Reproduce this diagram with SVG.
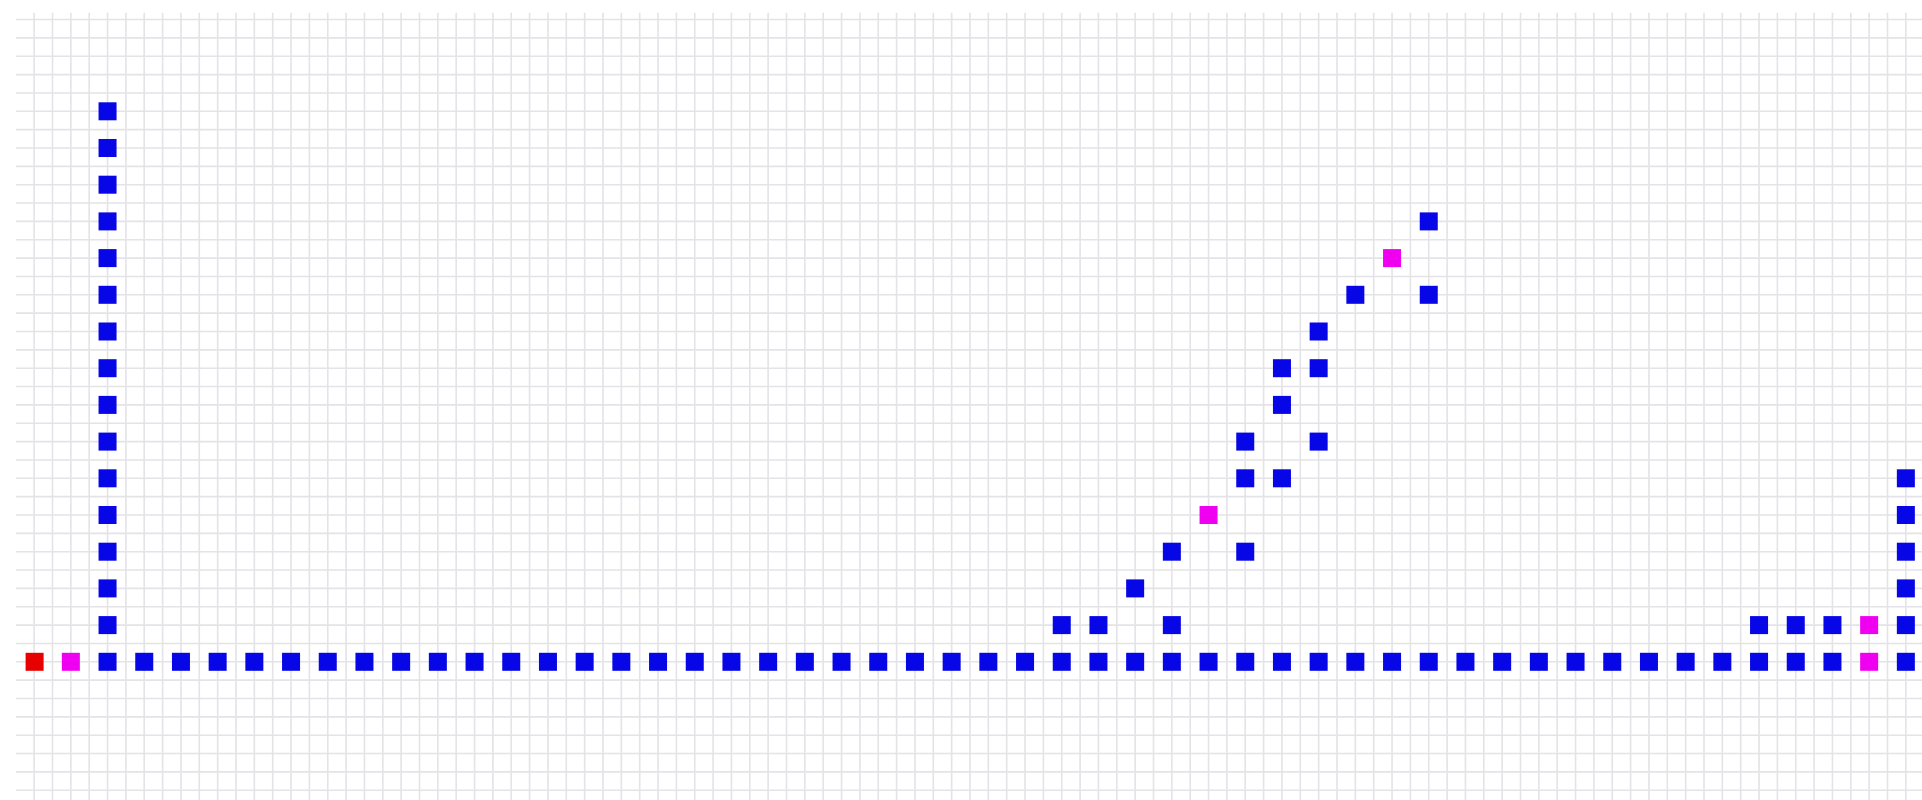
<svg xmlns="http://www.w3.org/2000/svg" xmlns:xlink="http://www.w3.org/1999/xlink" width="1922" height="800" viewBox="0 0 1922 800">
<style>
.b{fill:#0606e6}
.m{fill:#f000f0}
.r{fill:#e60000}
.gl{stroke:#e3e3e8;stroke-width:1.6;fill:none}
</style>
<defs>
<rect id="sq" x="-9" y="-9" width="18" height="18"/>
</defs>
<rect width="1922" height="800" fill="#ffffff"/>
<g id="grid">
<path class="gl" d="M16 19.55H1922M16 37.9H1922M16 56.25H1922M16 74.6H1922M16 92.95H1922M16 111.3H1922M16 129.65H1922M16 148H1922M16 166.35H1922M16 184.7H1922M16 203.05H1922M16 221.4H1922M16 239.75H1922M16 258.1H1922M16 276.45H1922M16 294.8H1922M16 313.15H1922M16 331.5H1922M16 349.85H1922M16 368.2H1922M16 386.55H1922M16 404.9H1922M16 423.25H1922M16 441.6H1922M16 459.95H1922M16 478.3H1922M16 496.65H1922M16 515H1922M16 533.35H1922M16 551.7H1922M16 570.05H1922M16 588.4H1922M16 606.75H1922M16 625.1H1922M16 643.45H1922M16 661.8H1922M16 680.15H1922M16 698.5H1922M16 716.85H1922M16 735.2H1922M16 753.55H1922M16 771.9H1922M16 790.25H1922"/>
<path class="gl" d="M34.15 12.7V800M52.5 12.7V800M70.85 12.7V800M89.2 12.7V800M107.55 12.7V800M125.9 12.7V800M144.25 12.7V800M162.6 12.7V800M180.95 12.7V800M199.3 12.7V800M217.65 12.7V800M236 12.7V800M254.35 12.7V800M272.7 12.7V800M291.05 12.7V800M309.4 12.7V800M327.75 12.7V800M346.1 12.7V800M364.45 12.7V800M382.8 12.7V800M401.15 12.7V800M419.5 12.7V800M437.85 12.7V800M456.2 12.7V800M474.55 12.7V800M492.9 12.7V800M511.25 12.7V800M529.6 12.7V800M547.95 12.7V800M566.3 12.7V800M584.65 12.7V800M603 12.7V800M621.35 12.7V800M639.7 12.7V800M658.05 12.7V800M676.4 12.7V800M694.75 12.7V800M713.1 12.7V800M731.45 12.7V800M749.8 12.7V800M768.15 12.7V800M786.5 12.7V800M804.85 12.7V800M823.2 12.7V800M841.55 12.7V800M859.9 12.7V800M878.25 12.7V800M896.6 12.7V800M914.95 12.7V800M933.3 12.7V800M951.65 12.7V800M970 12.7V800M988.35 12.7V800M1006.7 12.7V800M1025.05 12.7V800M1043.4 12.7V800M1061.75 12.7V800M1080.1 12.7V800M1098.45 12.7V800M1116.8 12.7V800M1135.15 12.7V800M1153.5 12.7V800M1171.85 12.7V800M1190.2 12.7V800M1208.55 12.7V800M1226.9 12.7V800M1245.25 12.7V800M1263.6 12.7V800M1281.95 12.7V800M1300.3 12.7V800M1318.65 12.7V800M1337 12.7V800M1355.35 12.7V800M1373.7 12.7V800M1392.05 12.7V800M1410.4 12.7V800M1428.75 12.7V800M1447.1 12.7V800M1465.45 12.7V800M1483.8 12.7V800M1502.15 12.7V800M1520.5 12.7V800M1538.85 12.7V800M1557.2 12.7V800M1575.55 12.7V800M1593.9 12.7V800M1612.25 12.7V800M1630.6 12.7V800M1648.95 12.7V800M1667.3 12.7V800M1685.65 12.7V800M1704 12.7V800M1722.35 12.7V800M1740.7 12.7V800M1759.05 12.7V800M1777.4 12.7V800M1795.75 12.7V800M1814.1 12.7V800M1832.45 12.7V800M1850.8 12.7V800M1869.15 12.7V800M1887.5 12.7V800M1905.85 12.7V800"/>
</g>
<g id="connectors"></g>
<g id="nodes">
<g id="start"><use class="r" href="#sq" x="34.6" y="661.8"/></g>
<g id="m1"><use class="m" href="#sq" x="70.85" y="661.8"/></g>
<g id="m2"><use class="m" href="#sq" x="1869.15" y="661.8"/></g>
<g id="m3"><use class="m" href="#sq" x="1869.15" y="625.1"/></g>
<g id="m4"><use class="m" href="#sq" x="1208.55" y="515.0"/></g>
<g id="m5"><use class="m" href="#sq" x="1392.05" y="258.1"/></g>
<g id="leftcol">
<use class="b" href="#sq" x="107.55" y="111.3"/>
<use class="b" href="#sq" x="107.55" y="148.0"/>
<use class="b" href="#sq" x="107.55" y="184.7"/>
<use class="b" href="#sq" x="107.55" y="221.4"/>
<use class="b" href="#sq" x="107.55" y="258.1"/>
<use class="b" href="#sq" x="107.55" y="294.8"/>
<use class="b" href="#sq" x="107.55" y="331.5"/>
<use class="b" href="#sq" x="107.55" y="368.2"/>
<use class="b" href="#sq" x="107.55" y="404.9"/>
<use class="b" href="#sq" x="107.55" y="441.6"/>
<use class="b" href="#sq" x="107.55" y="478.3"/>
<use class="b" href="#sq" x="107.55" y="515.0"/>
<use class="b" href="#sq" x="107.55" y="551.7"/>
<use class="b" href="#sq" x="107.55" y="588.4"/>
<use class="b" href="#sq" x="107.55" y="625.1"/>
<use class="b" href="#sq" x="107.55" y="661.8"/>
</g>
<g id="bottomrow">
<use class="b" href="#sq" x="144.25" y="661.8"/>
<use class="b" href="#sq" x="180.95" y="661.8"/>
<use class="b" href="#sq" x="217.65" y="661.8"/>
<use class="b" href="#sq" x="254.35" y="661.8"/>
<use class="b" href="#sq" x="291.05" y="661.8"/>
<use class="b" href="#sq" x="327.75" y="661.8"/>
<use class="b" href="#sq" x="364.45" y="661.8"/>
<use class="b" href="#sq" x="401.15" y="661.8"/>
<use class="b" href="#sq" x="437.85" y="661.8"/>
<use class="b" href="#sq" x="474.55" y="661.8"/>
<use class="b" href="#sq" x="511.25" y="661.8"/>
<use class="b" href="#sq" x="547.95" y="661.8"/>
<use class="b" href="#sq" x="584.65" y="661.8"/>
<use class="b" href="#sq" x="621.35" y="661.8"/>
<use class="b" href="#sq" x="658.05" y="661.8"/>
<use class="b" href="#sq" x="694.75" y="661.8"/>
<use class="b" href="#sq" x="731.45" y="661.8"/>
<use class="b" href="#sq" x="768.15" y="661.8"/>
<use class="b" href="#sq" x="804.85" y="661.8"/>
<use class="b" href="#sq" x="841.55" y="661.8"/>
<use class="b" href="#sq" x="878.25" y="661.8"/>
<use class="b" href="#sq" x="914.95" y="661.8"/>
<use class="b" href="#sq" x="951.65" y="661.8"/>
<use class="b" href="#sq" x="988.35" y="661.8"/>
<use class="b" href="#sq" x="1025.05" y="661.8"/>
<use class="b" href="#sq" x="1061.75" y="661.8"/>
<use class="b" href="#sq" x="1098.45" y="661.8"/>
<use class="b" href="#sq" x="1135.15" y="661.8"/>
<use class="b" href="#sq" x="1171.85" y="661.8"/>
<use class="b" href="#sq" x="1208.55" y="661.8"/>
<use class="b" href="#sq" x="1245.25" y="661.8"/>
<use class="b" href="#sq" x="1281.95" y="661.8"/>
<use class="b" href="#sq" x="1318.65" y="661.8"/>
<use class="b" href="#sq" x="1355.35" y="661.8"/>
<use class="b" href="#sq" x="1392.05" y="661.8"/>
<use class="b" href="#sq" x="1428.75" y="661.8"/>
<use class="b" href="#sq" x="1465.45" y="661.8"/>
<use class="b" href="#sq" x="1502.15" y="661.8"/>
<use class="b" href="#sq" x="1538.85" y="661.8"/>
<use class="b" href="#sq" x="1575.55" y="661.8"/>
<use class="b" href="#sq" x="1612.25" y="661.8"/>
<use class="b" href="#sq" x="1648.95" y="661.8"/>
<use class="b" href="#sq" x="1685.65" y="661.8"/>
<use class="b" href="#sq" x="1722.35" y="661.8"/>
<use class="b" href="#sq" x="1759.05" y="661.8"/>
<use class="b" href="#sq" x="1795.75" y="661.8"/>
<use class="b" href="#sq" x="1832.45" y="661.8"/>
<use class="b" href="#sq" x="1905.85" y="661.8"/>
</g>
<g id="rightcol">
<use class="b" href="#sq" x="1905.85" y="478.3"/>
<use class="b" href="#sq" x="1905.85" y="515.0"/>
<use class="b" href="#sq" x="1905.85" y="551.7"/>
<use class="b" href="#sq" x="1905.85" y="588.4"/>
<use class="b" href="#sq" x="1905.85" y="625.1"/>
<use class="b" href="#sq" x="1759.05" y="625.1"/>
<use class="b" href="#sq" x="1795.75" y="625.1"/>
<use class="b" href="#sq" x="1832.45" y="625.1"/>
</g>
<g id="middle">
<use class="b" href="#sq" x="1061.75" y="625.1"/>
<use class="b" href="#sq" x="1098.45" y="625.1"/>
<use class="b" href="#sq" x="1171.85" y="625.1"/>
<use class="b" href="#sq" x="1135.15" y="588.4"/>
<use class="b" href="#sq" x="1171.85" y="551.7"/>
<use class="b" href="#sq" x="1245.25" y="551.7"/>
<use class="b" href="#sq" x="1245.25" y="478.3"/>
<use class="b" href="#sq" x="1281.95" y="478.3"/>
<use class="b" href="#sq" x="1245.25" y="441.6"/>
<use class="b" href="#sq" x="1318.65" y="441.6"/>
<use class="b" href="#sq" x="1281.95" y="404.9"/>
<use class="b" href="#sq" x="1281.95" y="368.2"/>
<use class="b" href="#sq" x="1318.65" y="368.2"/>
<use class="b" href="#sq" x="1318.65" y="331.5"/>
<use class="b" href="#sq" x="1355.35" y="294.8"/>
<use class="b" href="#sq" x="1428.75" y="294.8"/>
<use class="b" href="#sq" x="1428.75" y="221.4"/>
</g>
</g>
</svg>
